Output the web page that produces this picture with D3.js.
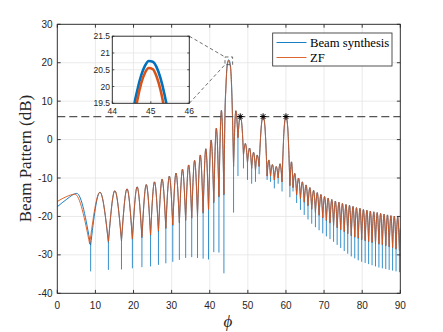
<!DOCTYPE html>
<html><head><meta charset="utf-8">
<script src="https://cdn.jsdelivr.net/npm/d3@7"></script>
<style>body{margin:0;background:#fff}svg{display:block}</style>
</head><body>
<svg id="c" width="443" height="332"></svg>
<script>
// ---------- data ----------
const xTicks = [0,10,20,30,40,50,60,70,80,90];
const yTicks = [-40,-30,-20,-10,0,10,20,30];
const insetXTicks = [44,45,46];
const insetYTicks = [19.5,20,20.5,21,21.5];
const seriesNames = ["Beam synthesis","ZF"];
const thresholdDb = 6;
const markerPhi = [48,54,60];
const markerDb = [6,6,6];

// Beam synthesis: nulls (lobe base level and spike tip) and lobe peaks
const bsNullPhi = [0,
 8.75,13.41,16.84,19.70,22.20,24.47,26.54,28.48,30.30,32.03,33.68,35.27,36.79,38.26,39.68,41.06,42.41,43.72,
 46.25,47.40,48.85,49.90,51.00,52.00,52.95,55.05,55.95,56.95,57.95,58.97,61.03,61.85,
 62.80,63.80,64.79,65.78,66.76,67.73,68.69,69.65,70.60,71.55,72.49,73.43,74.36,75.29,76.21,77.13,78.05,78.96,79.87,80.78,81.69,82.59,83.49,84.39,85.29,86.19,87.08,87.98,88.88,89.77,
 90];
const bsNullDb = [-17.5,
 -27.5,-26.8,-26.4,-26.0,-25.6,-25.0,-24.0,-23.2,-22.4,-21.7,-21.1,-20.5,-19.9,-19.2,-18.4,-16.5,-15.0,-14.5,
 -7.0,0.5,-4.0,-6.0,-7.5,-8.0,-7.0,-9.5,-9.5,-10.5,-10.0,-11.0,-12.0,-12.5,
 -14.5,-15.5,-16.4,-17.3,-18.2,-19.0,-19.8,-20.5,-21.2,-21.8,-22.4,-23.0,-23.6,-24.1,-24.6,-25.1,-25.5,-25.8,-26.1,-26.4,-26.7,-26.9,-27.1,-27.3,-27.5,-27.7,-28.0,-28.3,-28.6,-28.9,
 -23.5];
const bsNullTip = [-17.5,
 -34.3,-33.9,-33.8,-33.5,-33.2,-33.0,-32.6,-32.2,-31.8,-31.3,-30.8,-30.6,-30.8,-31.0,-31.2,-29.3,-29.4,-34.8,
 -19.0,-9.5,-7.5,-10.5,-11.5,-11.0,-9.0,-10.5,-11.0,-12.7,-11.5,-13.5,-15.0,-13.5,
 -16.5,-18.3,-19.6,-20.8,-21.9,-22.8,-23.6,-24.4,-25.2,-25.9,-26.6,-27.4,-28.2,-29.0,-29.7,-30.4,-30.9,-31.4,-31.8,-32.1,-32.4,-32.7,-33.0,-33.3,-33.5,-33.7,-33.9,-34.1,-34.3,-34.5,
 -23.5];
const bsPeakPhi = [2.5,5.1,11.2,15.1,18.3,20.95,23.35,25.5,27.5,29.4,31.15,32.85,34.47,36.03,37.52,38.97,40.37,41.73,43.06,
 44.0,44.25,44.55,44.65,44.75,44.85,44.95,45.05,45.15,45.25,45.35,45.45,45.75,46.0,
 46.85,48.0,48.45,49.35,50.45,51.5,52.45,53.55,54.0,54.45,55.5,56.45,57.45,58.45,59.55,60.0,60.45,61.45,
 62.3,63.3,64.3,65.28,66.27,67.25,68.21,69.17,70.12,71.07,72.02,72.96,73.9,74.82,75.75,76.67,77.59,78.5,79.42,80.32,81.23,82.14,83.04,83.94,84.84,85.74,86.63,87.53,88.43,89.32];
const bsPeakDb = [-15.5,-14.0,-13.7,-13.3,-12.8,-12.3,-11.7,-11.0,-10.3,-9.5,-8.7,-7.7,-6.6,-5.4,-4.0,-2.4,-0.1,3.0,7.6,
 7.0,14.0,19.30,19.89,20.33,20.62,20.76,20.74,20.58,20.26,19.79,19.16,13.8,5.0,
 7.5,6.2,3.6,-1.0,-2.2,-3.3,-4.0,3.7,6.2,3.7,-5.3,-6.5,-7.0,-6.3,3.3,6.2,3.3,-5.8,
 -8.8,-10.0,-11.0,-11.8,-12.5,-13.2,-13.8,-14.3,-14.8,-15.2,-15.6,-16.0,-16.3,-16.6,-16.9,-17.1,-17.4,-17.7,-17.9,-18.2,-18.4,-18.6,-18.8,-19.0,-19.2,-19.4,-19.6,-19.8,-19.9,-20.1];

// ZF: nulls and lobe peaks
const zfNullPhi = [0,
 8.5,13.41,16.84,19.70,22.20,24.47,26.54,28.48,30.30,32.03,33.68,35.27,36.79,38.26,39.68,41.06,42.41,43.72,
 46.25,47.40,48.85,49.90,51.00,52.00,52.95,55.05,55.95,56.95,57.95,58.97,61.03,61.85,
 62.80,63.80,64.79,65.78,66.76,67.73,68.69,69.65,70.60,71.55,72.49,73.43,74.36,75.29,76.21,77.13,78.05,78.96,79.87,80.78,81.69,82.59,83.49,84.39,85.29,86.19,87.08,87.98,88.88,89.77,
 90];
const zfNullDb = [-16.1,
 -27.2,-26.5,-26.2,-25.8,-25.3,-24.8,-23.8,-23.0,-22.2,-21.5,-20.9,-20.3,-19.7,-19.0,-18.2,-16.2,-14.8,-14.2,
 -7.0,0.5,-4.0,-6.0,-7.5,-8.0,-7.0,-9.5,-9.5,-10.5,-10.0,-11.0,-12.0,-12.5,
 -14.3,-15.3,-16.2,-17.1,-18.0,-18.8,-19.6,-20.3,-21.0,-21.6,-22.2,-22.8,-23.4,-23.9,-24.4,-24.9,-25.3,-25.6,-25.9,-26.2,-26.5,-26.7,-26.9,-27.1,-27.3,-27.5,-27.8,-28.1,-28.4,-28.7,
 -23.0];
const zfPeakPhi = [2.5,4.6,11.2,15.1,18.3,20.95,23.35,25.5,27.5,29.4,31.15,32.85,34.47,36.03,37.52,38.97,40.37,41.73,43.06,
 44.0,44.25,44.55,44.65,44.75,44.85,44.95,45.05,45.15,45.25,45.35,45.45,45.75,46.0,
 46.85,48.0,48.45,49.35,50.45,51.5,52.45,53.55,54.0,54.45,55.5,56.45,57.45,58.45,59.55,60.0,60.45,61.45,
 62.3,63.3,64.3,65.28,66.27,67.25,68.21,69.17,70.12,71.07,72.02,72.96,73.9,74.82,75.75,76.67,77.59,78.5,79.42,80.32,81.23,82.14,83.04,83.94,84.84,85.74,86.63,87.53,88.43,89.32];
const zfPeakDb = [-14.8,-14.2,-13.7,-13.3,-12.8,-12.3,-11.7,-11.0,-10.3,-9.5,-8.7,-7.7,-6.6,-5.4,-4.0,-2.4,-0.1,3.0,7.6,
 6.5,13.5,18.91,19.59,20.09,20.41,20.55,20.52,20.30,19.91,19.34,18.59,13.0,4.5,
 7.5,6.2,3.6,-1.0,-2.2,-3.3,-4.0,3.7,6.2,3.7,-5.3,-6.5,-7.0,-6.3,3.3,6.2,3.3,-5.8,
 -8.8,-10.0,-11.0,-11.8,-12.5,-13.2,-13.8,-14.3,-14.8,-15.2,-15.6,-16.0,-16.3,-16.6,-16.9,-17.1,-17.4,-17.7,-17.9,-18.2,-18.4,-18.6,-18.8,-19.0,-19.2,-19.4,-19.6,-19.8,-19.9,-20.1];

// ---------- drawing ----------
const BLUE = "#0072BD", ORANGE = "#D95319", AX = "#262626";
const svg = d3.select("#c");
const x = d3.scaleLinear().domain([0,90]).range([57.3,400.3]);
const y = d3.scaleLinear().domain([-40,30]).range([293.3,24.3]);
const ix = d3.scaleLinear().domain([44,46]).range([112.3,189.3]);
const iy = d3.scaleLinear().domain([19.5,21.5]).range([103.3,36.2]);

const defs = svg.append("defs");
defs.append("clipPath").attr("id","clipMain").append("rect")
  .attr("x",x(0)).attr("y",y(30)).attr("width",x(90)-x(0)).attr("height",y(-40)-y(30));
defs.append("clipPath").attr("id","clipInset").append("rect")
  .attr("x",ix(44)).attr("y",iy(21.5)).attr("width",ix(46)-ix(44)).attr("height",iy(19.5)-iy(21.5));

function lobes(nPhi,nDb,pPhi,pDb){
  const out=[];
  for(let i=0;i<nPhi.length-1;i++){
    const a=nPhi[i], b=nPhi[i+1];
    const pts=[[a,nDb[i]]];
    pPhi.forEach((p,j)=>{ if(p>a && p<b) pts.push([p,pDb[j]]); });
    pts.push([b,nDb[i+1]]);
    out.push(pts);
  }
  return out;
}
function pathFor(lb,sx,sy){
  const ln = d3.line().x(d=>sx(d[0])).y(d=>sy(d[1])).curve(d3.curveMonotoneX);
  return lb.map((l,i)=>{ const s=ln(l); return i===0 ? s : "L"+s.slice(1); }).join("");
}
function spikesFor(nPhi,nDb,nTip,sx,sy){
  let s="";
  nPhi.forEach((p,i)=>{ if(nTip[i] < nDb[i]-0.01) s += `M${sx(p)},${sy(nDb[i])}L${sx(p)},${sy(nTip[i])}`; });
  return s;
}
const bsLobes = lobes(bsNullPhi,bsNullDb,bsPeakPhi,bsPeakDb);
const zfLobes = lobes(zfNullPhi,zfNullDb,zfPeakPhi,zfPeakDb);

// grid
const g = svg.append("g");
g.selectAll(".gx").data(xTicks).join("line")
  .attr("x1",d=>x(d)).attr("x2",d=>x(d)).attr("y1",y(-40)).attr("y2",y(30))
  .attr("stroke","#e4e4e4").attr("stroke-width",0.8);
g.selectAll(".gy").data(yTicks).join("line")
  .attr("x1",x(0)).attr("x2",x(90)).attr("y1",d=>y(d)).attr("y2",d=>y(d))
  .attr("stroke","#e4e4e4").attr("stroke-width",0.8);

// curves
const plot = svg.append("g").attr("clip-path","url(#clipMain)");
plot.append("path").attr("d",spikesFor(bsNullPhi,bsNullDb,bsNullTip,x,y))
  .attr("fill","none").attr("stroke",BLUE).attr("stroke-width",0.8);
plot.append("path").attr("d",pathFor(bsLobes,x,y))
  .attr("fill","none").attr("stroke",BLUE).attr("stroke-width",0.9).attr("stroke-linejoin","round");
plot.append("path").attr("d",pathFor(zfLobes,x,y))
  .attr("fill","none").attr("stroke",ORANGE).attr("stroke-width",0.9).attr("stroke-linejoin","round");

// threshold line
svg.append("line").attr("x1",x(0)).attr("x2",x(90)).attr("y1",y(thresholdDb)).attr("y2",y(thresholdDb))
  .attr("stroke","#555").attr("stroke-width",1.3).attr("stroke-dasharray","8,4");

// markers
const mk = svg.append("g");
markerPhi.forEach((p,i)=>{
  const cx=x(p), cy=y(markerDb[i]), r=3.2, r2=2.3;
  mk.append("path").attr("d",`M${cx-r},${cy}L${cx+r},${cy}M${cx},${cy-r}L${cx},${cy+r}M${cx-r2},${cy-r2}L${cx+r2},${cy+r2}M${cx-r2},${cy+r2}L${cx+r2},${cy-r2}`)
    .attr("stroke","#000").attr("stroke-width",1);
});

// axes box + ticks
svg.append("rect").attr("x",x(0)).attr("y",y(30)).attr("width",x(90)-x(0)).attr("height",y(-40)-y(30))
  .attr("fill","none").attr("stroke",AX).attr("stroke-width",0.9);
const tl=3.4;
const tk = svg.append("g").attr("stroke",AX).attr("stroke-width",0.9);
xTicks.forEach(d=>{
  tk.append("line").attr("x1",x(d)).attr("x2",x(d)).attr("y1",y(-40)).attr("y2",y(-40)-tl);
  tk.append("line").attr("x1",x(d)).attr("x2",x(d)).attr("y1",y(30)).attr("y2",y(30)+tl);
});
yTicks.forEach(d=>{
  tk.append("line").attr("x1",x(0)).attr("x2",x(0)+tl).attr("y1",y(d)).attr("y2",y(d));
  tk.append("line").attr("x1",x(90)).attr("x2",x(90)-tl).attr("y1",y(d)).attr("y2",y(d));
});
const lab = svg.append("g").attr("font-family","Liberation Sans, Arial, sans-serif").attr("font-size",10).attr("fill",AX);
xTicks.forEach(d=>lab.append("text").attr("x",x(d)).attr("y",308.8).attr("text-anchor","middle").text(d));
yTicks.forEach(d=>lab.append("text").attr("x",52.5).attr("y",y(d)+3.6).attr("text-anchor","end").text(d));

svg.append("text").attr("transform",`translate(31,158.5) rotate(-90)`).attr("text-anchor","middle")
  .attr("font-family","Liberation Serif, Times New Roman, serif").attr("font-size",17).attr("fill",AX)
  .text("Beam Pattern (dB)");
svg.append("text").attr("x",228).attr("y",327).attr("text-anchor","middle")
  .attr("font-family","Liberation Serif, DejaVu Serif, serif").attr("font-style","italic").attr("font-size",17).attr("fill",AX)
  .text("ϕ");

// zoom indicator
const zi = svg.append("g").attr("fill","none").attr("stroke","#333").attr("stroke-width",0.7).attr("stroke-dasharray","3.5,2.5");
zi.append("rect").attr("x",x(44)).attr("y",y(21.5)).attr("width",x(46)-x(44)).attr("height",y(19.5)-y(21.5));
zi.append("line").attr("x1",ix(46)).attr("y1",iy(21.5)).attr("x2",x(44)).attr("y2",y(21.5));
zi.append("line").attr("x1",ix(46)).attr("y1",iy(19.5)).attr("x2",x(44)).attr("y2",y(19.5));

// inset
const ins = svg.append("g");
ins.selectAll(".igx").data(insetXTicks).join("line")
  .attr("x1",d=>ix(d)).attr("x2",d=>ix(d)).attr("y1",iy(19.5)).attr("y2",iy(21.5))
  .attr("stroke","#e4e4e4").attr("stroke-width",0.8);
ins.selectAll(".igy").data(insetYTicks).join("line")
  .attr("x1",ix(44)).attr("x2",ix(46)).attr("y1",d=>iy(d)).attr("y2",d=>iy(d))
  .attr("stroke","#e4e4e4").attr("stroke-width",0.8);
const ic = ins.append("g").attr("clip-path","url(#clipInset)");
ic.append("path").attr("d",pathFor(bsLobes,ix,iy)).attr("fill","none").attr("stroke",BLUE).attr("stroke-width",2.6);
ic.append("path").attr("d",pathFor(zfLobes,ix,iy)).attr("fill","none").attr("stroke",ORANGE).attr("stroke-width",2.6);
ins.append("rect").attr("x",ix(44)).attr("y",iy(21.5)).attr("width",ix(46)-ix(44)).attr("height",iy(19.5)-iy(21.5))
  .attr("fill","none").attr("stroke",AX).attr("stroke-width",0.9);
const itk = ins.append("g").attr("stroke",AX).attr("stroke-width",0.8);
insetXTicks.forEach(d=>{
  itk.append("line").attr("x1",ix(d)).attr("x2",ix(d)).attr("y1",iy(19.5)).attr("y2",iy(19.5)-2);
  itk.append("line").attr("x1",ix(d)).attr("x2",ix(d)).attr("y1",iy(21.5)).attr("y2",iy(21.5)+2);
});
insetYTicks.forEach(d=>{
  itk.append("line").attr("x1",ix(44)).attr("x2",ix(44)+2).attr("y1",iy(d)).attr("y2",iy(d));
  itk.append("line").attr("x1",ix(46)).attr("x2",ix(46)-2).attr("y1",iy(d)).attr("y2",iy(d));
});
const ilab = ins.append("g").attr("font-family","Liberation Sans, Arial, sans-serif").attr("font-size",8.5).attr("fill",AX);
insetXTicks.forEach(d=>ilab.append("text").attr("x",ix(d)).attr("y",114).attr("text-anchor","middle").text(d));
insetYTicks.forEach(d=>ilab.append("text").attr("x",110).attr("y",iy(d)+3).attr("text-anchor","end").text(d));

// legend
const lg = svg.append("g");
lg.append("rect").attr("x",272.7).attr("y",33).attr("width",119.3).attr("height",33)
  .attr("fill","#fff").attr("stroke",AX).attr("stroke-width",0.8);
const legColors=[BLUE,ORANGE], legY=[42.5,57.5];
seriesNames.forEach((n,i)=>{
  lg.append("line").attr("x1",276.5).attr("x2",306.5).attr("y1",legY[i]).attr("y2",legY[i])
    .attr("stroke",legColors[i]).attr("stroke-width",0.9);
  lg.append("text").attr("x",310).attr("y",legY[i]+4.3)
    .attr("font-family","Liberation Serif, Times New Roman, serif").attr("font-size",12.7).attr("fill","#000").text(n);
});
</script>
</body></html>
